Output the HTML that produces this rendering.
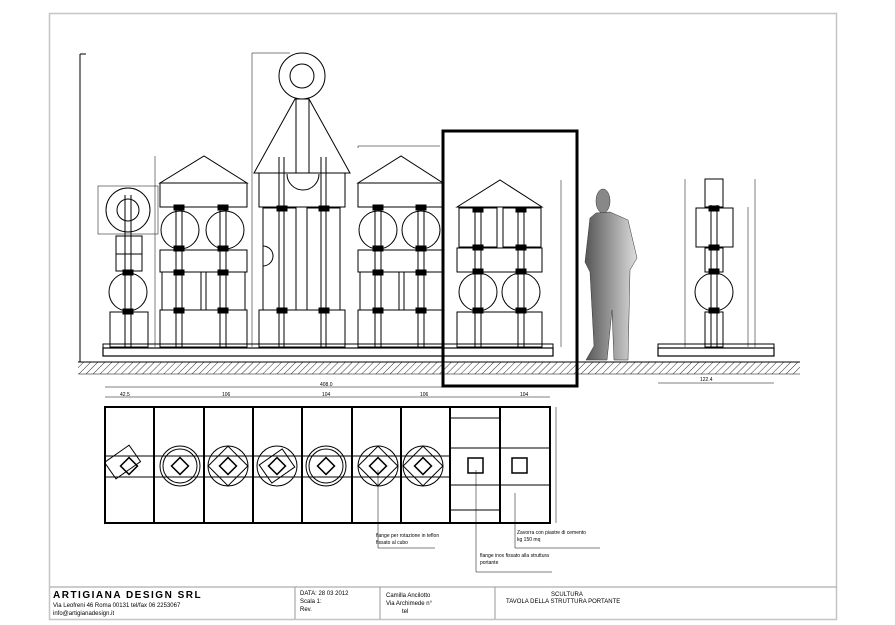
<!DOCTYPE html>
<html><head><meta charset="utf-8"><style>
html,body{margin:0;padding:0;background:#fff;width:895px;height:625px;overflow:hidden}
svg{display:block}
text{font-family:"Liberation Sans",sans-serif}
</style></head><body>
<svg width="895" height="625" viewBox="0 0 895 625" xmlns="http://www.w3.org/2000/svg">
<defs>
<pattern id="h" width="5" height="5" patternUnits="userSpaceOnUse" patternTransform="rotate(45)"><line x1="0" y1="0" x2="0" y2="5" stroke="#333" stroke-width="1"/></pattern>
<linearGradient id="g" x1="0" x2="1"><stop offset="0" stop-color="#555"/><stop offset="1" stop-color="#ddd"/></linearGradient>
</defs>
<rect x="49.5" y="13.5" width="787" height="606" fill="none" stroke="#c4c4c4" stroke-width="1.5"/>
<line x1="50" y1="587" x2="836" y2="587" stroke="#999"/>
<line x1="295" y1="587" x2="295" y2="619" stroke="#999"/>
<line x1="380" y1="587" x2="380" y2="619" stroke="#999"/>
<line x1="495" y1="587" x2="495" y2="619" stroke="#999"/>
<text x="53" y="598" font-size="10" font-weight="bold" letter-spacing="1.5">ARTIGIANA DESIGN SRL</text>
<text x="53" y="607" font-size="6">Via Leofreni 46 Roma 00131  tel/fax 06 2253067</text>
<text x="53" y="615" font-size="6">info@artigianadesign.it</text>
<text x="300" y="595" font-size="6">DATA: 28 03 2012</text>
<text x="300" y="603" font-size="6">Scala   1:</text>
<text x="300" y="611" font-size="6">Rev.</text>
<text x="386" y="597" font-size="6">Camilla Ancilotto</text>
<text x="386" y="605" font-size="6">Via Archimede n°</text>
<text x="402" y="613" font-size="6">tel</text>
<text x="551" y="596" font-size="6">SCULTURA</text>
<text x="506" y="603" font-size="6">TAVOLA DELLA STRUTTURA PORTANTE</text>

<g fill="none" stroke="#000" stroke-width="1">
<rect x="78" y="362" width="722" height="12" fill="url(#h)" stroke="none"/>
<line x1="78" y1="362" x2="800" y2="362"/>
<line x1="78" y1="374" x2="800" y2="374" stroke-width="0.5"/>
<rect x="103" y="348" width="450" height="8" stroke-width="1.2"/>
<rect x="103" y="344" width="450" height="4"/>
<rect x="658" y="348" width="116" height="8" stroke-width="1.2"/>
<rect x="658" y="344" width="116" height="4"/>
<line x1="80" y1="54" x2="80" y2="362"/><line x1="80" y1="54" x2="86" y2="54"/>

<circle cx="128" cy="210" r="22"/><circle cx="128" cy="210" r="11"/>
<rect x="98" y="186" width="60" height="48" stroke-width="0.5"/>
<rect x="116" y="236" width="26" height="18"/><rect x="116" y="254" width="26" height="17"/>
<circle cx="128" cy="292" r="19"/>
<rect x="110" y="312" width="38" height="35"/>
<line x1="125" y1="195" x2="125" y2="347"/><line x1="131" y1="195" x2="131" y2="347"/>
<rect x="123" y="270" width="10" height="5" fill="#000"/><rect x="123" y="309" width="10" height="5" fill="#000"/>

<polygon points="160,183 204,156 247,183"/>
<rect x="160" y="183" width="87" height="24"/>
<circle cx="180" cy="230" r="19"/><circle cx="225" cy="230" r="19"/>
<rect x="160" y="250" width="87" height="22"/>
<rect x="162" y="272" width="39" height="38"/><rect x="206" y="272" width="39" height="38"/>
<rect x="160" y="310" width="87" height="37"/>
<line x1="176" y1="205" x2="176" y2="347"/><line x1="182" y1="205" x2="182" y2="347"/>
<line x1="220" y1="205" x2="220" y2="347"/><line x1="226" y1="205" x2="226" y2="347"/>
<g fill="#000"><rect x="174" y="205" width="10" height="5"/><rect x="218" y="205" width="10" height="5"/><rect x="174" y="246" width="10" height="5"/><rect x="218" y="246" width="10" height="5"/><rect x="174" y="270" width="10" height="5"/><rect x="218" y="270" width="10" height="5"/><rect x="174" y="308" width="10" height="5"/><rect x="218" y="308" width="10" height="5"/></g>
<line x1="155" y1="156" x2="155" y2="347" stroke-width="0.5"/>

<circle cx="302" cy="76" r="23"/><circle cx="302" cy="76" r="12"/>
<polygon points="295,99 254,173 350,173 309,99"/>
<rect x="296" y="99" width="13" height="74"/>
<rect x="259" y="173" width="86" height="34"/>
<path d="M287,174 A16,16 0 0 0 319,174"/>
<rect x="263" y="208" width="33" height="102"/><rect x="307" y="208" width="33" height="102"/>
<path d="M263,246 A10,10 0 0 1 263,266"/>
<rect x="259" y="310" width="86" height="37"/>
<line x1="279" y1="157" x2="279" y2="347"/><line x1="284" y1="157" x2="284" y2="347"/>
<line x1="321" y1="157" x2="321" y2="347"/><line x1="326" y1="157" x2="326" y2="347"/>
<g fill="#000"><rect x="277" y="206" width="10" height="5"/><rect x="319" y="206" width="10" height="5"/><rect x="277" y="308" width="10" height="5"/><rect x="319" y="308" width="10" height="5"/></g>
<polyline points="252,347 252,53 290,53" stroke-width="0.5"/>

<polygon points="358,183 401,156 443,183"/>
<rect x="358" y="183" width="85" height="24"/>
<circle cx="378" cy="230" r="19"/><circle cx="421" cy="230" r="19"/>
<rect x="358" y="250" width="85" height="22"/>
<rect x="360" y="272" width="39" height="38"/><rect x="404" y="272" width="39" height="38"/>
<rect x="358" y="310" width="85" height="37"/>
<line x1="375" y1="205" x2="375" y2="347"/><line x1="381" y1="205" x2="381" y2="347"/>
<line x1="418" y1="205" x2="418" y2="347"/><line x1="424" y1="205" x2="424" y2="347"/>
<g fill="#000"><rect x="373" y="205" width="10" height="5"/><rect x="416" y="205" width="10" height="5"/><rect x="373" y="246" width="10" height="5"/><rect x="416" y="246" width="10" height="5"/><rect x="373" y="270" width="10" height="5"/><rect x="416" y="270" width="10" height="5"/><rect x="373" y="308" width="10" height="5"/><rect x="416" y="308" width="10" height="5"/></g>
<polyline points="358,148 358,146 440,146" stroke-width="0.5"/>

<polygon points="457,207 500,180 542,207"/>
<rect x="459" y="208" width="38" height="39"/><rect x="503" y="208" width="38" height="39"/>
<rect x="457" y="248" width="85" height="24"/>
<circle cx="478" cy="292" r="19"/><circle cx="521" cy="292" r="19"/>
<rect x="457" y="312" width="85" height="35"/>
<line x1="475" y1="207" x2="475" y2="347"/><line x1="481" y1="207" x2="481" y2="347"/>
<line x1="518" y1="207" x2="518" y2="347"/><line x1="524" y1="207" x2="524" y2="347"/>
<g fill="#000"><rect x="473" y="207" width="10" height="5"/><rect x="516" y="207" width="10" height="5"/><rect x="473" y="245" width="10" height="5"/><rect x="516" y="245" width="10" height="5"/><rect x="473" y="269" width="10" height="5"/><rect x="516" y="269" width="10" height="5"/><rect x="473" y="308" width="10" height="5"/><rect x="516" y="308" width="10" height="5"/></g>
<line x1="561" y1="180" x2="561" y2="347" stroke-width="0.5"/>
<rect x="443" y="131" width="134" height="255" stroke-width="3"/>

<rect x="705" y="179" width="18" height="28"/>
<rect x="696" y="208" width="37" height="39"/>
<rect x="705" y="248" width="18" height="24"/>
<circle cx="714" cy="292" r="19"/>
<rect x="705" y="312" width="18" height="35"/>
<line x1="711" y1="205" x2="711" y2="347"/><line x1="717" y1="205" x2="717" y2="347"/>
<g fill="#000"><rect x="709" y="206" width="10" height="5"/><rect x="709" y="245" width="10" height="5"/><rect x="709" y="269" width="10" height="5"/><rect x="709" y="308" width="10" height="5"/></g>
<line x1="685" y1="179" x2="685" y2="347" stroke-width="0.5"/>
<line x1="748" y1="207" x2="748" y2="347" stroke-width="0.5"/>
<line x1="755" y1="179" x2="755" y2="347" stroke-width="0.5"/>
<line x1="658" y1="383" x2="774" y2="383" stroke-width="0.5"/>

<line x1="105" y1="387" x2="550" y2="387" stroke-width="0.5"/>
<line x1="105" y1="397" x2="550" y2="397" stroke-width="0.5"/>
<rect x="105" y="407" width="445" height="116" stroke-width="2"/>
<g stroke-width="2">
<line x1="154" y1="407" x2="154" y2="523"/><line x1="204" y1="407" x2="204" y2="523"/><line x1="253" y1="407" x2="253" y2="523"/><line x1="302" y1="407" x2="302" y2="523"/><line x1="352" y1="407" x2="352" y2="523"/><line x1="401" y1="407" x2="401" y2="523"/><line x1="450" y1="407" x2="450" y2="523"/><line x1="500" y1="407" x2="500" y2="523"/>
</g>
<line x1="105" y1="456" x2="450" y2="456"/><line x1="105" y1="477" x2="450" y2="477"/>
<line x1="450" y1="448" x2="550" y2="448"/><line x1="450" y1="485" x2="550" y2="485"/>
<line x1="450" y1="418" x2="500" y2="418"/><line x1="450" y1="510" x2="500" y2="510"/>
<rect x="111" y="449" width="30" height="20" transform="rotate(-35 129 466)"/>
<circle cx="180" cy="466" r="20"/><circle cx="180" cy="466" r="17"/>
<circle cx="228" cy="466" r="20"/><rect x="214" y="452" width="28" height="28" transform="rotate(45 228 466)"/>
<circle cx="277" cy="466" r="20"/><rect x="263" y="455" width="28" height="22" transform="rotate(-35 277 466)"/>
<circle cx="326" cy="466" r="20"/><circle cx="326" cy="466" r="17"/>
<circle cx="378" cy="466" r="20"/><rect x="364" y="452" width="28" height="28" transform="rotate(45 378 466)"/>
<circle cx="423" cy="466" r="20"/><rect x="409" y="452" width="28" height="28" transform="rotate(45 423 466)"/>
<g stroke-width="1.5">
<rect x="123" y="460" width="12" height="12" transform="rotate(45 129 466)"/><rect x="174" y="460" width="12" height="12" transform="rotate(45 180 466)"/><rect x="222" y="460" width="12" height="12" transform="rotate(45 228 466)"/><rect x="271" y="460" width="12" height="12" transform="rotate(45 277 466)"/><rect x="320" y="460" width="12" height="12" transform="rotate(45 326 466)"/><rect x="372" y="460" width="12" height="12" transform="rotate(45 378 466)"/><rect x="417" y="460" width="12" height="12" transform="rotate(45 423 466)"/>
<rect x="468" y="458" width="15" height="15"/><rect x="512" y="458" width="15" height="15"/>
</g>
<line x1="556" y1="407" x2="556" y2="523" stroke-width="0.5"/>
<polyline points="378,470 378,548 435,548" stroke-width="0.5"/>
<polyline points="476,470 476,572 552,572" stroke-width="0.5"/>
<polyline points="515,493 515,548 600,548" stroke-width="0.5"/>
</g>
<ellipse cx="603" cy="201" rx="7" ry="12" fill="#888" stroke="#333" stroke-width="0.5"/>
<path d="M596,213 L610,212 L628,220 L637,258 L630,270 L628,360 L614,360 L612,310 L607,360 L586,360 L594,346 L590,272 L585,262 L590,218 Z" fill="url(#g)" stroke="#333" stroke-width="0.5"/>
<g font-size="5" fill="#000">
<text x="376" y="537">flange per rotazione in teflon</text>
<text x="376" y="544">fissato al cubo</text>
<text x="480" y="557">flange inox fissato alla struttura</text>
<text x="480" y="564">portante</text>
<text x="517" y="534">Zavorra con piastre di cemento</text>
<text x="517" y="541">kg 150 mq</text>
<text x="320" y="386">408.0</text>
<text x="120" y="396">42.5</text><text x="222" y="396">106</text><text x="322" y="396">104</text><text x="420" y="396">106</text><text x="520" y="396">104</text>
<text x="700" y="381">122.4</text>
</g>
</svg>
</body></html>
